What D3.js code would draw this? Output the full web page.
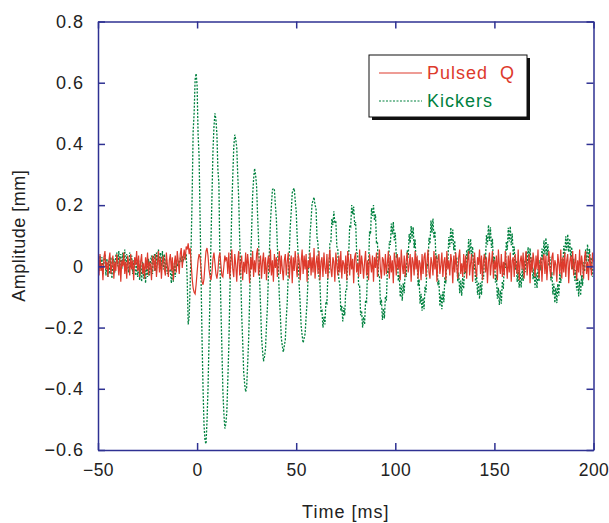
<!DOCTYPE html>
<html>
<head>
<meta charset="utf-8">
<script src="https://cdn.jsdelivr.net/npm/d3@7"></script>
<style>
  html, body { margin: 0; padding: 0; background: #ffffff; }
  svg { display: block; }
</style>
</head>
<body>
<div id="chart"></div>
<script>
// ---- DATA ----
// sampling: t = -50 ms ... 200 ms, every 0.5 ms (501 samples)
const tStart = -50;
const tStep = 0.5;

// Pulsed Q amplitude, in micrometres (converted to mm when plotted)
const pulsedQ = [
  20, -30, 40, -15, 10, -45, 30, 50, -10, 15,
  -35, 20, 45, -25, 5, 35, -40, 15, -15, 40,
  10, -30, 30, -50, 20, 0, 45, -25, 15, -40,
  35, 10, -30, 40, -10, 20, -45, 30, 5, 50,
  -15, 35, -35, 15, 40, -25, 10, -40, 30, -10,
  45, -30, 15, 5, -45, 35, 20, -15, 40, -35,
  10, 50, -20, 30, -40, 15, 35, -10, -30, 45,
  5, -35, 20, 40, -15, 30, -45, 10, 35, -20,
  50, 15, -25, 40, 60, -5, 30, 55, 20, 65,
  55, 75, 40, 60, 10, -40, -70, -85, -90, -60,
  -20, 20, 40, 30, -10, -50, -60, -40, 10, 50,
  60, 35, -10, -30, -45, -20, 25, 45, 10, -25,
  -40, -15, 30, 45, 5, -30, -35, 0, 35, 20,
  30, -25, 45, -40, 15, 55, -10, -35, 40, 5, -50, 20, 50, -30, 10, 35, -45, 15, -20, 45,
  -25, 40, 5, -55, 30, -10, 50, -35, 20, -20, 40, 60, -30, 5, 35, -40, 15, 45, -25, 30,
  -45, 10, 35, -20, 55, -30, 20, -50, 40, -5, 30, -35, 15, 50, -25, 35, -10, -45, 20, 40,
  -30, 15, 45, -40, 10, 35, -55, 30, -15, 50, 0, -35, 40, 20, -45, 15, 55, -25, 35, -10,
  40, -50, 20, -5, 45, -30, 30, -20, 60, -40, 10, 35, -25, 50, -45, 15, 30, -35, 45, -5,
  -25, 40, -40, 20, 55, -10, -35, 30, 15, -50, 45, 5, -30, 35, -20, 50, -40, 20, 10, -25,
  35, -45, 50, 15, -30, 40, -10, 25, -55, 30, 45, -20, 10, -35, 55, -25, 35, 5, -40, 15,
  50, -30, 20, -45, 40, 10, -20, 35, -50, 30, -5, 45, -35, 15, 55, -10, -40, 30, 20, -30,
  40, -25, 10, 50, -40, 35, -20, 20, -55, 45, 15, -30, 40, -10, 30, -45, 55, 5, -25, 35,
  -35, 20, 45, -20, 5, 40, -50, 30, 15, -30, 50, -10, 35, -40, 20, 10, -45, 40, -25, 30,
  45, -35, 15, 55, -20, -40, 30, 10, -30, 50, -10, 35, -50, 20, 40, -25, 5, 45, -35, 15,
  30, -45, 50, -10, 20, -30, 40, 15, -55, 35, -20, 45, 0, -40, 30, 55, -25, 10, -35, 40,
  -20, 35, -40, 20, 50, -30, 10, 40, -50, 15, 45, -10, -35, 30, 5, 55, -25, 35, -45, 20,
  40, -20, 30, -55, 15, 45, -30, 10, 50, -40, 20, -10, 35, -45, 55, 5, -25, 40, -35, 15,
  -30, 50, 10, -40, 35, -20, 45, -50, 20, 30, -35, 40, 0, -25, 55, -45, 15, 35, -10, 45,
  -40, 20, 50, -30, 10, 40, -55, 30, -20, 45, 15, -35, 35, -10, 55, -40, 5, 30, -50, 20,
  40, -25, 35, -45, 15, 50, -10, -35, 30, 45, -30, 20, 5, -50, 40, 10, -25, 55, -40, 30,
  -20, 45, -35, 20, 40, -55, 15, 35, -10, 50, -30, 10, 40, -45, 20, -20, 55, -30, 35, 5,
  -40, 30, 50, -25, 15, -45, 40, 10, -30, 45, 15
];

// Kickers amplitude, in micrometres
const kickers = [
  25, -15, 35, -10, 30, -25, 20, 40, -30, 25, -35, 20, -25, 30, -40, 15, 25, -20, 35, 45,
  0, 50, -5, 40, -10, 45, 5, 55, -15, 40, 0, -20, 45, -5, 35, -25, 20, 0, -30, 15,
  -35, 20, -45, 5, -50, 15, -40, 0, -55, 10, -35, 25, -30, 20, 35, -25, 30, 40, -15, 45,
  5, 55, -5, 45, 0, 50, -10, 40, -20, 25, -25, -15, -15, -10, -55, 0, -50, 10, -35, 20,
  0, 15, 10, 25, 15, 35, 20, 30, 25, 40, -40, -190, -165, -60, 70, 230, 440, 500, 610, 630,
  590, 430, 360, 160, -40, -240, -400, -520, -570, -580, -505, -400, -250, -95, 85, 230, 375, 455, 500, 480,
  430, 315, 270, 25, -130, -265, -405, -480, -530, -515, -475, -370, -260, -100, 35, 190, 295, 390, 430, 415,
  390, 300, 220, 85, -20, -160, -245, -345, -385, -410, -395, -320, -240, -110, 15, 115, 230, 285, 320, 300,
  265, 170, 90, -35, -125, -230, -275, -310, -295, -270, -195, -130, -25, 50, 145, 200, 250, 255, 250, 200,
  155, 65, -5, -100, -160, -235, -260, -280, -260, -240, -170, -115, -20, 45, 130, 180, 240, 250, 255, 215,
  180, 95, 35, -60, -120, -195, -225, -250, -235, -220, -165, -115, -35, 25, 105, 150, 205, 215, 226, 200,
  190, 95, 75, -35, -55, -150, -145, -200, -165, -190, -115, -120, -25, -20, 75, 80, 155, 135, 180, 140,
  150, 65, 55, -45, -55, -145, -130, -180, -135, -160, -75, -75, 30, 40, 135, 130, 200, 170, 195, 135,
  145, 45, 40, -65, -65, -160, -145, -200, -165, -190, -110, -115, -10, 0, 110, 105, 190, 165, 200, 150,
  170, 78, 80, -30, -30, -125, -108, -175, -138, -170, -98, -112, -12, -18, 82, 70, 140, 105, 145, 85,
  110, 28, 42, -48, -28, -100, -62, -112, -55, -88, -10, -35, 52, 28, 106, 76, 132, 90, 128, 60,
  88, 5, 24, -64, -42, -122, -90, -145, -103, -140, -66, -85, 10, -2, 93, 73, 150, 110, 156, 92,
  115, 25, 35, -62, -46, -130, -92, -140, -82, -117, -35, -56, 33, 13, 96, 63, 127, 76, 120, 53,
  84, 5, 30, -50, -20, -88, -46, -96, -37, -73, 3, -24, 54, 22, 89, 41, 90, 27, 64, -9,
  21, -54, -23, -93, -51, -106, -54, -93, -18, -42, 43, 22, 102, 71, 135, 83, 128, 60, 90, 9,
  31, -53, -28, -106, -70, -126, -79, -122, -49, -74, 13, -5, 81, 54, 126, 81, 131, 69, 107, 35,
  65, -11, 20, -51, -12, -70, -21, -69, -7, -48, 19, -19, 47, 4, 63, 12, 59, -6, 29, -42,
  -6, -70, -21, -71, -9, -49, 21, -13, 58, 21, 85, 39, 93, 34, 73, 1, 31, -46, -18, -92,
  -56, -119, -70, -120, -57, -96, -23, -54, 23, -7, 67, 32, 98, 52, 105, 47, 91, 26, 63, -9,
  25, -47, -12, -79, -38, -98, -47, -95, -29, -63, 13, -17, 55, 15, 72, 14, 57, -10, 29, -34,
  -3
];

const xTicks = [-50, 0, 50, 100, 150, 200];
const xTickLabels = ["\u221250", "0", "50", "100", "150", "200"];
const yTicks = [-0.6, -0.4, -0.2, 0, 0.2, 0.4, 0.6, 0.8];
const yTickLabels = ["\u22120.6", "\u22120.4", "\u22120.2", "0", "0.2", "0.4", "0.6", "0.8"];
const seriesNames = ["Pulsed\u00a0\u00a0Q", "Kickers"];
const xTitle = "Time [ms]";
const yTitle = "Amplitude [mm]";

// ---- LAYOUT ----
const W = 609, H = 523;
const margin = { left: 98, right: 15.5, top: 21.5, bottom: 73 };
const axisColor = "#2e3192";
const redColor = "#dd3a2c";
const greenColor = "#00813f";
const font = "'Liberation Sans', Arial, sans-serif";

const svg = d3.select("#chart").append("svg").attr("width", W).attr("height", H);

const x = d3.scaleLinear().domain([-50, 200]).range([margin.left, W - margin.right]);
const y = d3.scaleLinear().domain([-0.6, 0.8]).range([H - margin.bottom, margin.top]);

const toPoints = arr => arr.map((v, i) => ({ t: tStart + i * tStep, v: v / 1000 }));
const qPts = toPoints(pulsedQ);
const kPts = toPoints(kickers);

svg.append("defs").append("clipPath").attr("id", "clip")
  .append("rect")
  .attr("x", x.range()[0]).attr("y", y.range()[1])
  .attr("width", x.range()[1] - x.range()[0])
  .attr("height", y.range()[0] - y.range()[1]);

const line = d3.line().x(d => x(d.t)).y(d => y(d.v));

const plot = svg.append("g").attr("clip-path", "url(#clip)");
plot.append("path").datum(kPts)
  .attr("d", line).attr("fill", "none")
  .attr("stroke", greenColor).attr("stroke-width", 1.3)
  .attr("stroke-dasharray", "2,1.5");
plot.append("path").datum(qPts)
  .attr("d", line).attr("fill", "none")
  .attr("stroke", redColor).attr("stroke-width", 1.2);

// ---- AXES ----
function styleAxis(g, size, spacing) {
  g.selectAll(".domain").attr("stroke", axisColor).attr("stroke-width", 1.5);
  g.selectAll(".tick line").attr("stroke", axisColor).attr("stroke-width", 1.5);
  g.selectAll(".tick text").attr("fill", "#222").attr("font-family", font)
    .attr("font-size", size).attr("letter-spacing", spacing);
}

const tickLen = 7;
svg.append("g").attr("transform", `translate(0,${y.range()[0]})`)
  .call(d3.axisBottom(x).tickValues(xTicks).tickFormat((d, i) => xTickLabels[i])
    .tickSizeInner(-tickLen).tickSizeOuter(0).tickPadding(14))
  .call(g => styleAxis(g, 17.5, "0.5px"));
svg.append("g").attr("transform", `translate(0,${y.range()[1]})`)
  .call(d3.axisTop(x).tickValues(xTicks).tickFormat("")
    .tickSizeInner(-tickLen).tickSizeOuter(0))
  .call(g => styleAxis(g, 18, "0px"));
svg.append("g").attr("transform", `translate(${x.range()[0]},0)`)
  .call(d3.axisLeft(y).tickValues(yTicks).tickFormat((d, i) => yTickLabels[i])
    .tickSizeInner(-tickLen).tickSizeOuter(0).tickPadding(14))
  .call(g => styleAxis(g, 18, "1px"));
svg.append("g").attr("transform", `translate(${x.range()[1]},0)`)
  .call(d3.axisRight(y).tickValues(yTicks).tickFormat("")
    .tickSizeInner(-tickLen).tickSizeOuter(0))
  .call(g => styleAxis(g, 18, "0px"));

// axis titles
svg.append("text")
  .attr("x", (x.range()[0] + x.range()[1]) / 2)
  .attr("y", 518)
  .attr("text-anchor", "middle")
  .attr("font-family", font).attr("font-size", 18).attr("letter-spacing", "1px").attr("fill", "#222")
  .text(xTitle);
svg.append("text")
  .attr("transform", `translate(25,${(y.range()[0] + y.range()[1]) / 2}) rotate(-90)`)
  .attr("text-anchor", "middle")
  .attr("font-family", font).attr("font-size", 18).attr("letter-spacing", "0.5px").attr("fill", "#222")
  .text(yTitle);

// ---- LEGEND ----
const lg = svg.append("g").attr("transform", "translate(369,55)");
lg.append("rect").attr("x", 3).attr("y", 3).attr("width", 158).attr("height", 62).attr("fill", "#111");
lg.append("rect").attr("x", 0).attr("y", 0).attr("width", 158).attr("height", 62)
  .attr("fill", "#fff").attr("stroke", "#111").attr("stroke-width", 1);
const legendColors = [redColor, greenColor];
const legendDash = [null, "2,1.5"];
seriesNames.forEach((name, i) => {
  const cy = 18 + i * 28;
  lg.append("line").attr("x1", 10).attr("x2", 53).attr("y1", cy).attr("y2", cy)
    .attr("stroke", legendColors[i]).attr("stroke-width", 1.2)
    .attr("stroke-dasharray", legendDash[i]);
  lg.append("text").attr("x", 58).attr("y", cy).attr("dy", "0.35em")
    .attr("font-family", font).attr("font-size", 18).attr("letter-spacing", "1px")
    .attr("fill", legendColors[i])
    .text(name);
});
</script>
</body>
</html>
